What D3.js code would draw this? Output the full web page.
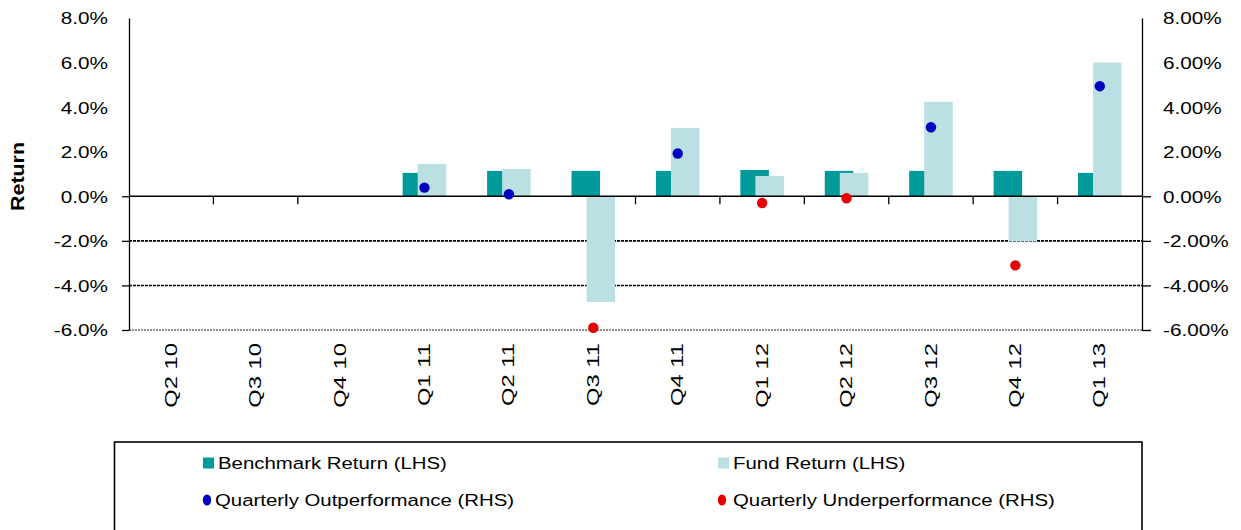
<!DOCTYPE html>
<html><head><meta charset="utf-8">
<script src="https://cdn.jsdelivr.net/npm/d3@7"></script>
<style>body{margin:0;background:#fff}svg{display:block;font-family:"Liberation Sans",Arial,sans-serif}</style>
</head><body><svg id="c" width="1241" height="530"></svg>
<script>
const categories = ["Q2 10","Q3 10","Q4 10","Q1 11","Q2 11","Q3 11","Q4 11","Q1 12","Q2 12","Q3 12","Q4 12","Q1 13"];
const benchmarkReturn = [null,null,null,1.05,1.14,1.14,1.14,1.18,1.14,1.14,1.14,1.05];
const fundReturn = [null,null,null,1.45,1.23,-4.74,3.07,0.91,1.05,4.24,-2.02,6.00];
const outperformance = [null,null,null,0.39,0.09,null,1.92,null,null,3.10,null,4.94];
const underperformance = [null,null,null,null,null,-5.90,null,-0.30,-0.09,null,-3.10,null];
const yTicks = [-6,-4,-2,0,2,4,6,8];
const leftTickLabels = ["-6.0%","-4.0%","-2.0%","0.0%","2.0%","4.0%","6.0%","8.0%"];
const rightTickLabels = ["-6.00%","-4.00%","-2.00%","0.00%","2.00%","4.00%","6.00%","8.00%"];
const gridValues = [-2,-4];
const hiddenCategoryTicks = ["Q1 11","Q2 11","Q3 11"];
const legendLabels = ["Benchmark Return (LHS)","Fund Return (LHS)","Quarterly Outperformance (RHS)","Quarterly Underperformance (RHS)"];
const colors = {bench:"#009a9a", fund:"#bbe0e3", out:"#0000c0", under:"#e60000"};

const svg = d3.select("#c");
const L = 129, R = 1142, T = 18, B = 330;
const x = d3.scaleBand().domain(categories).range([L, R]).padding(0);
const y = d3.scaleLinear().domain([-6, 8]).range([B, T]);
const y2 = d3.scaleLinear().domain([-6, 8]).range([B, T]);
const bw = x.bandwidth() * 0.338;
const off = x.bandwidth() * 0.089;
const cx = c => x(c) + x.bandwidth() / 2;

// gridlines
svg.append("g").selectAll("line").data(gridValues).join("line")
  .attr("x1", L).attr("x2", R).attr("y1", d => y(d)).attr("y2", d => y(d))
  .attr("stroke", "#000").attr("stroke-width", 1.6).attr("stroke-dasharray", "3,1");
svg.append("line").attr("x1", L).attr("x2", R).attr("y1", y(-6)).attr("y2", y(-6))
  .attr("stroke", "#222").attr("stroke-width", 1).attr("stroke-dasharray", "2,1");

// bars
function bars(vals, color, dx) {
  svg.append("g").selectAll("rect")
    .data(categories.map((c, i) => ({c, v: vals[i]})).filter(d => d.v != null))
    .join("rect")
    .attr("x", d => cx(d.c) + dx - bw / 2)
    .attr("width", bw)
    .attr("y", d => Math.min(y(d.v), y(0)))
    .attr("height", d => Math.abs(y(d.v) - y(0)))
    .attr("fill", color);
}
bars(benchmarkReturn, colors.bench, -off);
bars(fundReturn, colors.fund, off);

// zero line & category ticks
svg.append("line").attr("x1", L).attr("x2", R).attr("y1", y(0)).attr("y2", y(0))
  .attr("stroke", "#000").attr("stroke-width", 1.5);
svg.append("g").selectAll("line")
  .data(categories.slice(1).filter(c => !hiddenCategoryTicks.includes(c)))
  .join("line")
  .attr("x1", d => x(d)).attr("x2", d => x(d))
  .attr("y1", y(0)).attr("y2", y(0) + 8)
  .attr("stroke", "#000").attr("stroke-width", 1.3);

// axes
const fs = 17;
const gl = svg.append("g").attr("transform", `translate(${L},0)`)
  .call(d3.axisLeft(y).tickValues(yTicks).tickFormat((d, i) => leftTickLabels[i]).tickSize(7).tickSizeOuter(0));
const gr = svg.append("g").attr("transform", `translate(${R},0)`)
  .call(d3.axisRight(y2).tickValues(yTicks).tickFormat((d, i) => rightTickLabels[i]).tickSize(9).tickSizeOuter(0));
[gl, gr].forEach((g, k) => {
  g.select(".domain").attr("stroke", "#000").attr("stroke-width", 1.3);
  g.selectAll(".tick line").attr("stroke", "#000").attr("stroke-width", 1.3)
    .attr("opacity", d => d > 0 ? 0 : 1);
  g.selectAll(".tick text")
    .attr("x", 0).attr("dy", "0.35em")
    .attr("font-size", fs).attr("fill", "#000")
    .attr("font-family", '"Liberation Sans",Arial,sans-serif')
    .attr("text-anchor", k === 0 ? "end" : "start")
    .attr("transform", `translate(${k === 0 ? -21 : 21},0) scale(1.22,1)`);
});

// y title
svg.append("text")
  .attr("transform", "translate(24,176.5) rotate(-90) scale(1.19,1)")
  .attr("text-anchor", "middle")
  .attr("font-size", 18).attr("font-weight", "bold").attr("fill", "#000")
  .text("Return");

// x labels
svg.append("g").selectAll("text").data(categories).join("text")
  .attr("transform", d => `translate(${cx(d)},343) rotate(-90) scale(1.4,1)`)
  .attr("text-anchor", "end").attr("dy", "0.33em")
  .attr("font-size", fs).attr("fill", "#000")
  .text(d => d);

// dots
function dots(vals, color) {
  svg.append("g").selectAll("circle")
    .data(categories.map((c, i) => ({c, v: vals[i]})).filter(d => d.v != null))
    .join("circle")
    .attr("cx", d => cx(d.c)).attr("cy", d => y2(d.v)).attr("r", 5.2)
    .attr("fill", color);
}
dots(outperformance, colors.out);
dots(underperformance, colors.under);

// legend
svg.append("rect").attr("x", 114.5).attr("y", 442).attr("width", 1027.5).attr("height", 120)
  .attr("fill", "none").attr("stroke", "#000").attr("stroke-width", 1.6);
const leg = svg.append("g");
const legItems = [
  {label: legendLabels[0], type: "rect", color: colors.bench, mx: 203, tx: 218, cy: 463},
  {label: legendLabels[1], type: "rect", color: colors.fund, mx: 718, tx: 733, cy: 463},
  {label: legendLabels[2], type: "dot", color: colors.out, mx: 207, tx: 215, cy: 500},
  {label: legendLabels[3], type: "dot", color: colors.under, mx: 722, tx: 733, cy: 500}
];
legItems.forEach(it => {
  if (it.type === "rect") {
    leg.append("rect").attr("x", it.mx).attr("y", it.cy - 5.5).attr("width", 11).attr("height", 11).attr("fill", it.color);
  } else {
    leg.append("ellipse").attr("cx", it.mx).attr("cy", it.cy).attr("rx", 4.2).attr("ry", 5.5).attr("fill", it.color);
  }
  leg.append("text")
    .attr("transform", `translate(${it.tx},${it.cy}) scale(1.2,1)`)
    .attr("dy", "0.36em").attr("font-size", fs).attr("fill", "#000")
    .text(it.label);
});
</script>
</body></html>
